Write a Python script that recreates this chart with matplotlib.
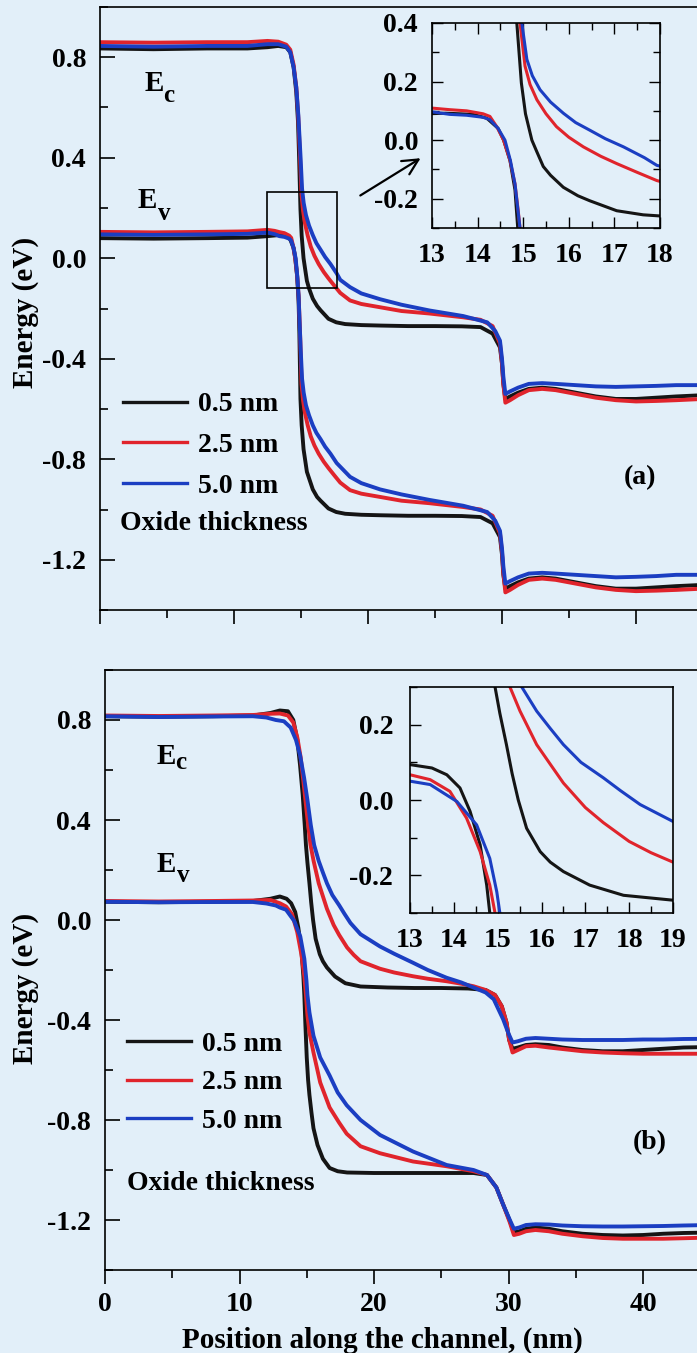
import matplotlib
matplotlib.use('Agg')
import matplotlib.pyplot as plt
from matplotlib.patches import Rectangle
from matplotlib.lines import Line2D
from matplotlib.ticker import MultipleLocator, FormatStrFormatter

plt.rcParams['font.family'] = ['Liberation Serif', 'DejaVu Serif']
plt.rcParams['font.weight'] = 'bold'
plt.rcParams['axes.labelweight'] = 'bold'
plt.rcParams['axes.unicode_minus'] = False

# ---------------- data : panel (a) ----------------
thickness_labels = ['0.5 nm', '2.5 nm', '5.0 nm']

a_ec_x_05 = [0, 4, 8, 11, 12.5, 13.3, 13.9, 14.2, 14.45, 14.65, 14.78, 14.86, 14.96, 15.05, 15.19, 15.3,
             15.44, 15.6, 15.88, 16.2, 16.46, 17.05, 17.63, 18.3, 19.5, 21, 23, 25, 27, 28.4, 29.3, 29.85,
             30.0, 30.1, 30.25, 30.6, 31.2, 32, 33, 34, 35.5, 37, 38.5, 40, 41.5, 43, 45]
a_ec_y_05 = [0.835, 0.832, 0.835, 0.835, 0.840, 0.845, 0.840, 0.82, 0.76, 0.66, 0.54, 0.40, 0.195, 0.09,
             0.0, -0.04, -0.09, -0.12, -0.161, -0.19, -0.207, -0.241, -0.255, -0.262, -0.266, -0.268,
             -0.27, -0.27, -0.271, -0.274, -0.30, -0.355, -0.42, -0.50, -0.56, -0.55, -0.535, -0.52,
             -0.515, -0.52, -0.535, -0.55, -0.56, -0.56, -0.555, -0.55, -0.545]

a_ec_x_25 = [0, 4, 8, 11, 12.5, 13.3, 13.9, 14.2, 14.45, 14.65, 14.8, 14.93, 15.04, 15.15, 15.3, 15.5,
             15.73, 16.0, 16.32, 16.7, 17.05, 17.5, 17.93, 18.66, 19.5, 20.9, 22.5, 24.6, 27.1, 28.4,
             29.3, 29.85, 30.0, 30.1, 30.25, 30.6, 31.2, 32, 33, 34, 35.5, 37, 38.5, 40, 41.5, 43, 45]
a_ec_y_25 = [0.86, 0.858, 0.86, 0.86, 0.865, 0.862, 0.85, 0.83, 0.77, 0.68, 0.56, 0.40, 0.253, 0.19,
             0.138, 0.09, 0.046, 0.01, -0.023, -0.055, -0.08, -0.11, -0.138, -0.168, -0.182, -0.195,
             -0.21, -0.22, -0.235, -0.245, -0.27, -0.34, -0.42, -0.50, -0.575, -0.565, -0.545, -0.525,
             -0.52, -0.525, -0.54, -0.555, -0.565, -0.57, -0.568, -0.565, -0.56]

a_ec_x_50 = [0, 4, 8, 11, 12.5, 13.3, 13.9, 14.2, 14.45, 14.65, 14.8, 14.97, 15.08, 15.2, 15.37, 15.6,
             15.88, 16.15, 16.46, 16.8, 17.2, 17.66, 17.93, 18.66, 19.5, 20.9, 22.5, 24.6, 27.1, 28.9,
             29.5, 29.85, 30.0, 30.1, 30.25, 30.6, 31.2, 32, 33, 34, 35.5, 37, 38.5, 40, 41.5, 43, 45]
a_ec_y_50 = [0.845, 0.842, 0.845, 0.845, 0.852, 0.852, 0.842, 0.82, 0.76, 0.68, 0.57, 0.40, 0.276, 0.22,
             0.172, 0.13, 0.092, 0.06, 0.034, 0.005, -0.023, -0.06, -0.086, -0.115, -0.14, -0.163,
             -0.185, -0.208, -0.23, -0.255, -0.29, -0.328, -0.40, -0.47, -0.54, -0.53, -0.515, -0.50,
             -0.497, -0.50, -0.505, -0.51, -0.512, -0.51, -0.508, -0.505, -0.505]

a_ev_x_05 = [0, 4, 8, 11, 12.5, 13.3, 13.9, 14.2, 14.45, 14.57, 14.71, 14.82, 14.88, 14.96, 15.05, 15.19,
             15.44, 15.88, 16.2, 16.46, 17.05, 17.63, 18.3, 19.5, 21, 23, 25, 27, 28.4, 29.3, 29.85, 30.0,
             30.1, 30.25, 30.6, 31.2, 32, 33, 34, 35.5, 37, 38.5, 40, 41.5, 43, 45]
a_ev_y_05 = [0.08, 0.078, 0.08, 0.082, 0.088, 0.092, 0.088, 0.075, 0.04, 0.0, -0.07, -0.17, -0.30, -0.56,
             -0.665, -0.76, -0.85, -0.92, -0.95, -0.965, -0.996, -1.01, -1.017, -1.021, -1.023, -1.025,
             -1.025, -1.026, -1.03, -1.055, -1.11, -1.18, -1.26, -1.315, -1.305, -1.29, -1.275, -1.27,
             -1.275, -1.29, -1.305, -1.315, -1.315, -1.31, -1.305, -1.30]

a_ev_x_25 = [0, 4, 8, 11, 12.5, 13.03, 13.39, 13.76, 14.12, 14.27, 14.42, 14.57, 14.71, 14.82, 14.89,
             14.95, 15.04, 15.15, 15.3, 15.5, 15.73, 16.0, 16.32, 16.7, 17.05, 17.5, 17.93, 18.66, 19.5,
             20.9, 22.5, 24.6, 27.1, 28.4, 29.3, 29.85, 30.0, 30.1, 30.25, 30.6, 31.2, 32, 33, 34, 35.5,
             37, 38.5, 40, 41.5, 43, 45]
a_ev_y_25 = [0.105, 0.103, 0.105, 0.107, 0.113, 0.109, 0.104, 0.100, 0.09, 0.081, 0.046, 0.0, -0.069,
             -0.149, -0.24, -0.33, -0.50, -0.565, -0.617, -0.665, -0.709, -0.745, -0.778, -0.81, -0.835,
             -0.865, -0.893, -0.923, -0.937, -0.95, -0.965, -0.975, -0.99, -1.00, -1.025, -1.095, -1.17,
             -1.25, -1.33, -1.32, -1.30, -1.28, -1.275, -1.28, -1.295, -1.31, -1.32, -1.325, -1.323,
             -1.32, -1.315]

a_ev_x_50 = [0, 4, 8, 11, 12.5, 13.03, 13.39, 13.76, 14.12, 14.27, 14.45, 14.6, 14.72, 14.82, 14.9,
             14.97, 15.08, 15.2, 15.37, 15.6, 15.88, 16.15, 16.46, 16.8, 17.2, 17.66, 18.66, 19.5, 20.9,
             22.5, 24.6, 27.1, 28.9, 29.5, 29.85, 30.0, 30.1, 30.25, 30.6, 31.2, 32, 33, 34, 35.5, 37,
             38.5, 40, 41.5, 43, 45]
a_ev_y_50 = [0.095, 0.093, 0.095, 0.097, 0.102, 0.096, 0.088, 0.085, 0.078, 0.07, 0.04, 0.0, -0.07,
             -0.15, -0.26, -0.355, -0.48, -0.535, -0.585, -0.625, -0.665, -0.695, -0.72, -0.75, -0.778,
             -0.815, -0.87, -0.895, -0.92, -0.94, -0.962, -0.985, -1.01, -1.045, -1.085, -1.155, -1.225,
             -1.295, -1.285, -1.27, -1.255, -1.252, -1.255, -1.26, -1.265, -1.27, -1.268, -1.265, -1.26,
             -1.26]

# ---------------- data : panel (b) ----------------
b_ec_x_05 = [0, 4, 8, 11, 12.3, 13.0, 13.6, 14.0, 14.3, 14.5, 14.7, 14.85, 14.94, 15.05, 15.2, 15.33,
             15.47, 15.66, 15.97, 16.2, 16.5, 17.1, 17.87, 19.0, 21, 23, 25, 27, 28.3, 29.0, 29.5, 29.85,
             30.05, 30.3, 30.7, 31.3, 32, 33, 34, 35.5, 37, 38.5, 40, 41.5, 43, 45]
b_ec_y_05 = [0.815, 0.813, 0.815, 0.818, 0.828, 0.838, 0.835, 0.80, 0.72, 0.62, 0.50, 0.38, 0.30, 0.23,
             0.147, 0.07, 0.0, -0.075, -0.137, -0.165, -0.19, -0.226, -0.253, -0.266, -0.27, -0.272,
             -0.272, -0.274, -0.28, -0.30, -0.345, -0.41, -0.48, -0.515, -0.51, -0.50, -0.497, -0.50,
             -0.51, -0.52, -0.525, -0.525, -0.52, -0.515, -0.51, -0.508]

b_ec_x_25 = [0, 4, 8, 11, 12.3, 13.0, 13.6, 14.0, 14.3, 14.55, 14.8, 15.0, 15.15, 15.28, 15.51, 15.89,
             16.2, 16.5, 17.0, 17.41, 18.0, 18.5, 19.0, 20.45, 21.5, 22.9, 24.0, 25.4, 26.5, 27.4, 28.3,
             29.0, 29.5, 29.85, 30.05, 30.3, 30.7, 31.3, 32, 33, 34, 35.5, 37, 38.5, 40, 41.5, 43, 45]
b_ec_y_25 = [0.818, 0.816, 0.818, 0.82, 0.825, 0.826, 0.818, 0.79, 0.73, 0.65, 0.53, 0.43, 0.36, 0.30,
             0.236, 0.147, 0.095, 0.045, -0.02, -0.06, -0.11, -0.14, -0.165, -0.195, -0.21, -0.225,
             -0.235, -0.245, -0.255, -0.265, -0.28, -0.30, -0.345, -0.41, -0.48, -0.53, -0.52, -0.505,
             -0.503, -0.51, -0.516, -0.525, -0.53, -0.533, -0.535, -0.535, -0.535, -0.535]

b_ec_x_50 = [0, 4, 8, 11, 12.0, 12.7, 13.3, 13.8, 14.2, 14.5, 14.8, 15.05, 15.3, 15.55, 15.89, 16.2,
             16.5, 16.9, 17.41, 17.8, 18.25, 19.0, 20.45, 21.5, 22.9, 24.0, 25.4, 26.5, 27.4, 28.3, 28.9,
             29.6, 29.9, 30.05, 30.3, 30.7, 31.3, 32, 33, 34, 35.5, 37, 38.5, 40, 41.5, 43, 45]
b_ec_y_50 = [0.815, 0.812, 0.814, 0.815, 0.81, 0.80, 0.795, 0.77, 0.72, 0.66, 0.57, 0.48, 0.38, 0.30,
             0.236, 0.19, 0.147, 0.10, 0.059, 0.025, -0.012, -0.057, -0.106, -0.135, -0.171, -0.20,
             -0.231, -0.25, -0.27, -0.29, -0.317, -0.397, -0.44, -0.46, -0.49, -0.485, -0.475, -0.472,
             -0.475, -0.478, -0.48, -0.48, -0.48, -0.478, -0.478, -0.476, -0.475]

b_ev_x_05 = [0, 4, 8, 11, 12.3, 13.0, 13.5, 13.84, 14.14, 14.37, 14.6, 14.75, 14.82, 14.9, 15.0, 15.1,
             15.2, 15.35, 15.5, 15.8, 16.2, 16.7, 17.3, 18, 20, 23, 25.5, 27.4, 28.4, 29.1, 29.6, 30.1,
             30.4, 30.8, 31.3, 32, 33, 34, 35.5, 37, 38.5, 40, 41.5, 43, 45]
b_ev_y_05 = [0.073, 0.071, 0.073, 0.076, 0.085, 0.094, 0.085, 0.067, 0.032, -0.03, -0.119, -0.226,
             -0.30, -0.42, -0.55, -0.64, -0.70, -0.77, -0.833, -0.90, -0.955, -0.992, -1.005, -1.01,
             -1.012, -1.012, -1.012, -1.012, -1.02, -1.07, -1.138, -1.204, -1.25, -1.245, -1.235, -1.23,
             -1.235, -1.245, -1.255, -1.26, -1.262, -1.26, -1.255, -1.252, -1.25]

b_ev_x_25 = [0, 4, 8, 11, 12.3, 13.0, 13.46, 13.91, 14.29, 14.6, 14.82, 14.94, 15.05, 15.2, 15.5, 16.0,
             16.7, 17.4, 17.97, 19.0, 20.45, 22.9, 25.4, 27.4, 28.4, 29.1, 29.6, 30.1, 30.4, 30.8, 31.3,
             32, 33, 34, 35.5, 37, 38.5, 40, 41.5, 43, 45]
b_ev_y_25 = [0.076, 0.074, 0.076, 0.078, 0.08, 0.067, 0.054, 0.023, -0.048, -0.137, -0.226, -0.30,
             -0.38, -0.45, -0.53, -0.65, -0.75, -0.81, -0.855, -0.905, -0.933, -0.966, -0.985, -1.005,
             -1.02, -1.07, -1.138, -1.21, -1.26, -1.255, -1.245, -1.24, -1.245, -1.255, -1.265, -1.272,
             -1.275, -1.275, -1.275, -1.273, -1.27]

b_ev_x_50 = [0, 4, 8, 11, 12.0, 12.7, 13.0, 13.46, 14.07, 14.52, 14.82, 14.98, 15.05, 15.2, 15.5, 16.0,
             16.7, 17.3, 17.97, 19.0, 20.45, 22.9, 25.4, 27.4, 28.4, 29.1, 29.6, 30.1, 30.4, 30.8, 31.3,
             32, 33, 34, 35.5, 37, 38.5, 40, 41.5, 43, 45]
b_ev_y_50 = [0.073, 0.071, 0.072, 0.072, 0.066, 0.058, 0.05, 0.041, -0.004, -0.066, -0.155, -0.244,
             -0.30, -0.37, -0.463, -0.55, -0.622, -0.69, -0.741, -0.80, -0.86, -0.926, -0.98, -1.0,
             -1.02, -1.07, -1.138, -1.20, -1.235, -1.23, -1.22, -1.217, -1.218, -1.222, -1.225, -1.226,
             -1.226, -1.225, -1.224, -1.222, -1.22]

panel_a = [((a_ec_x_05, a_ec_y_05), (a_ev_x_05, a_ev_y_05)),
           ((a_ec_x_25, a_ec_y_25), (a_ev_x_25, a_ev_y_25)),
           ((a_ec_x_50, a_ec_y_50), (a_ev_x_50, a_ev_y_50))]
panel_b = [((b_ec_x_05, b_ec_y_05), (b_ev_x_05, b_ev_y_05)),
           ((b_ec_x_25, b_ec_y_25), (b_ev_x_25, b_ev_y_25)),
           ((b_ec_x_50, b_ec_y_50), (b_ev_x_50, b_ev_y_50))]

# ---------------- style ----------------
BG = '#e2eff9'
COLORS = ['#151515', '#e0242c', '#1b3ec2']
FS = 20
W, H = 697, 1353

fig = plt.figure(figsize=(W / 100, H / 100), dpi=100, facecolor=BG)


def frac(left, top, right, bottom):
    return [left / W, 1 - bottom / H, (right - left) / W, (bottom - top) / H]


def style_main(ax, xlabels):
    ax.set_facecolor(BG)
    ax.set_xlim(0, 45)
    ax.set_ylim(-1.4, 1.0)
    ax.xaxis.set_major_locator(MultipleLocator(10))
    ax.xaxis.set_minor_locator(MultipleLocator(5))
    ax.yaxis.set_major_locator(MultipleLocator(0.4))
    ax.yaxis.set_minor_locator(MultipleLocator(0.2))
    ax.yaxis.set_major_formatter(FormatStrFormatter('%.1f'))
    ax.tick_params(axis='y', which='both', direction='in', left=True, right=False,
                   labelsize=FS, pad=10, width=1.2)
    ax.tick_params(axis='y', which='major', length=11)
    ax.tick_params(axis='y', which='minor', length=6)
    ax.tick_params(axis='x', which='both', direction='out', bottom=True, top=False,
                   labelbottom=xlabels, labelsize=FS, pad=6, width=1.2)
    ax.tick_params(axis='x', which='major', length=10)
    ax.tick_params(axis='x', which='minor', length=6)
    for s in ax.spines.values():
        s.set_linewidth(1.2)


def style_inset(ax, xlim, ylim, allsides, ypad):
    ax.set_facecolor(BG)
    ax.set_xlim(*xlim)
    ax.set_ylim(*ylim)
    ax.xaxis.set_major_locator(MultipleLocator(1))
    ax.xaxis.set_minor_locator(MultipleLocator(0.5))
    ax.yaxis.set_major_locator(MultipleLocator(0.2))
    ax.yaxis.set_minor_locator(MultipleLocator(0.1))
    ax.yaxis.set_major_formatter(FormatStrFormatter('%.1f'))
    ax.tick_params(which='both', direction='in', top=allsides, right=allsides,
                   labelsize=FS, width=1.0)
    ax.tick_params(axis='y', which='both', pad=ypad)
    ax.tick_params(axis='x', which='both', pad=11)
    ax.tick_params(which='major', length=8)
    ax.tick_params(which='minor', length=5)
    for s in ax.spines.values():
        s.set_linewidth(1.2)


def draw_curves(ax, panel, lw):
    for (ec, ev), c in zip(panel, COLORS):
        ax.plot(ec[0], ec[1], color=c, lw=lw, solid_capstyle='round', solid_joinstyle='round')
        ax.plot(ev[0], ev[1], color=c, lw=lw, solid_capstyle='round', solid_joinstyle='round')


# ---------------- panel (a) ----------------
axA = fig.add_axes(frac(100, 7, 100 + 45 * 13.4, 610))
style_main(axA, False)
draw_curves(axA, panel_a, 2.8)
axA.add_patch(Rectangle((12.45, -0.12), 5.25, 0.385, fill=False, lw=1.2, ec='black', zorder=5))
axA.annotate('', xy=(24.1, 0.404), xytext=(19.25, 0.244),
             arrowprops=dict(arrowstyle='->', lw=1.6, color='black', mutation_scale=28))
axA.text(3.36, 0.664, 'E', fontsize=21)
axA.text(4.70, 0.62, 'c', fontsize=18)
axA.text(2.84, 0.20, 'E', fontsize=21)
axA.text(4.33, 0.152, 'v', fontsize=18)
axA.text(40.3, -0.872, '(a)', fontsize=FS, ha='center', va='center')
axA.text(1.49, -1.056, 'Oxide thickness', fontsize=FS, ha='left', va='center')
handles = [Line2D([], [], color=c, lw=2.4) for c in COLORS]
axA.legend(handles, thickness_labels, loc='upper left', bbox_to_anchor=(0.038, 0.3615),
           frameon=False, fontsize=FS, handlelength=2.3, handletextpad=0.4,
           labelspacing=0.55, borderpad=0, borderaxespad=0)
axA.set_ylabel('Energy (eV)', fontsize=21, va='center')
axA.yaxis.set_label_coords((26 - 100) / 603, (610 - 312) / 603)

insA = fig.add_axes(frac(432, 23, 660, 228))
style_inset(insA, (13, 18), (-0.3, 0.4), True, 10)
draw_curves(insA, panel_a, 2.2)

# ---------------- panel (b) ----------------
axB = fig.add_axes(frac(105, 670, 105 + 45 * 13.45, 1270))
style_main(axB, True)
draw_curves(axB, panel_b, 2.8)
axB.text(3.87, 0.623, 'E', fontsize=21)
axB.text(5.2, 0.603, 'c', fontsize=18)
axB.text(3.87, 0.19, 'E', fontsize=21)
axB.text(5.35, 0.151, 'v', fontsize=18)
axB.text(40.5, -0.889, '(b)', fontsize=FS, ha='center', va='center')
axB.text(1.64, -1.052, 'Oxide thickness', fontsize=FS, ha='left', va='center')
handles = [Line2D([], [], color=c, lw=2.4) for c in COLORS]
axB.legend(handles, thickness_labels, loc='upper left', bbox_to_anchor=(0.036, 0.398),
           frameon=False, fontsize=FS, handlelength=2.3, handletextpad=0.4,
           labelspacing=0.48, borderpad=0, borderaxespad=0)
axB.set_ylabel('Energy (eV)', fontsize=21, va='center')
axB.yaxis.set_label_coords((26 - 105) / 605, (1270 - 988) / 600)
axB.set_xlabel('Position along the channel, (nm)', fontsize=21, va='center')
axB.xaxis.set_label_coords((382 - 105) / 605, (1270 - 1340) / 600)

insB = fig.add_axes(frac(410, 687, 673, 913))
style_inset(insB, (13, 19), (-0.3, 0.3), False, 12)
draw_curves(insB, panel_b, 2.2)

fig.savefig('out.png', dpi=100, facecolor=BG)
